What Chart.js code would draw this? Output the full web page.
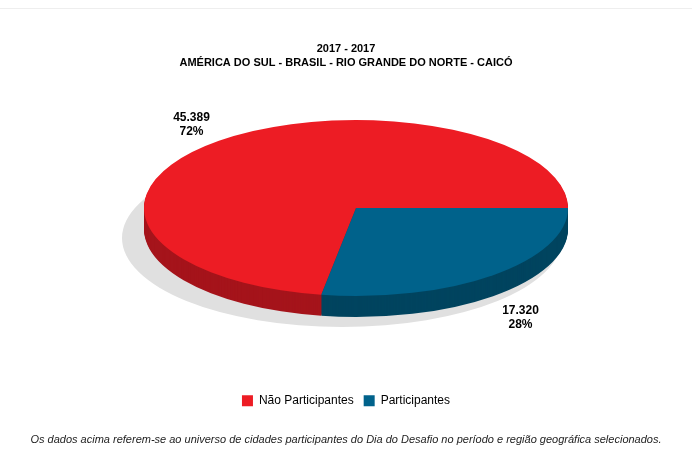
<!DOCTYPE html>
<html><head><meta charset="utf-8">
<script src="https://cdn.jsdelivr.net/npm/chart.js@4/dist/chart.umd.min.js"></script>
<style>html,body{margin:0;padding:0;background:#fff}#w{width:692px;height:467px;position:relative}</style>
</head><body><div id="w"><canvas id="c"></canvas></div>
<script>
const categories = ['Não Participantes', 'Participantes'];
const values = [45389, 17320];
const valueLabels = ['45.389', '17.320'];
const percentLabels = ['72%', '28%'];
const colors = ['#ED1C24', '#00628B'];
const sideColors = ['#A5141B', '#00445F'];
const titleLines = ['2017 - 2017', 'AMÉRICA DO SUL - BRASIL - RIO GRANDE DO NORTE - CAICÓ'];
const footnote = 'Os dados acima referem-se ao universo de cidades participantes do Dia do Desafio no período e região geográfica selecionados.';

const CX = 356, CY = 208, RX = 212, RY = 88, DEPTH = 21;
function applyT(ctx, arc){ const r = arc.outerRadius; ctx.translate(CX, CY); ctx.scale(RX/r, RY/r); ctx.translate(-arc.x, -arc.y); }

const pie3d = {
  id: 'pie3d',
  beforeDatasetsDraw(chart){
    const ctx = chart.ctx, arcs = chart.getDatasetMeta(0).data;
    ctx.save();
    ctx.fillStyle = '#E0E0E0';
    ctx.beginPath(); ctx.ellipse(CX-14, CY+30, RX+8, RY+1, 0, 0, Math.PI*2); ctx.fill();
    for (let d = DEPTH; d >= 1; d--) {
      ctx.save(); ctx.translate(0, d); applyT(ctx, arcs[0]);
      arcs.forEach((a,i)=>{ const bg=a.options.backgroundColor; a.options.backgroundColor=sideColors[i]; a.draw(ctx); a.options.backgroundColor=bg; });
      ctx.restore();
    }
    applyT(ctx, arcs[0]);
  },
  afterDatasetsDraw(chart){
    const ctx = chart.ctx, arcs = chart.getDatasetMeta(0).data;
    ctx.restore();
    ctx.save();
    ctx.font = 'bold 12px "Liberation Sans", Arial'; ctx.fillStyle = '#000'; ctx.textAlign = 'center';
    arcs.forEach((a,i)=>{
      const m = (a.startAngle + a.endAngle)/2;
      const x = CX + Math.cos(m)*RX*1.2, y = CY + Math.sin(m)*RY*1.28 + (Math.sin(m)>0?DEPTH:0);
      ctx.fillText(valueLabels[i], x, y-4); ctx.fillText(percentLabels[i], x, y+10);
    });
    ctx.strokeStyle='#EEE'; ctx.beginPath(); ctx.moveTo(0,8.5); ctx.lineTo(692,8.5); ctx.stroke();
    ctx.restore();
  }
};

new Chart(document.getElementById('c'), {
  type: 'pie',
  data: { labels: categories, datasets: [{ data: values, backgroundColor: colors, borderWidth: 0 }] },
  options: {
    responsive: true, maintainAspectRatio: false, animation: false, events: [],
    rotation: 90 + 360*values[1]/(values[0]+values[1]),
    layout: { padding: { left: 0, right: 0, top: 0, bottom: 0 } },
    plugins: {
      tooltip: { enabled: false },
      title: { display: true, text: titleLines, color: '#000', font: { family: '"Liberation Sans", Arial', size: 11, weight: 'bold', lineHeight: 1.25 }, padding: { top: 42, bottom: 10 } },
      legend: { position: 'bottom', labels: { color: '#000', boxWidth: 11, boxHeight: 11, font: { family: '"Liberation Sans", Arial', size: 12 } } },
      subtitle: { display: true, position: 'bottom', text: footnote, color: '#222', font: { family: '"Liberation Sans", Arial', size: 11, style: 'italic' }, padding: { top: 17, bottom: 20 } }
    }
  },
  plugins: [pie3d]
});
</script></body></html>
